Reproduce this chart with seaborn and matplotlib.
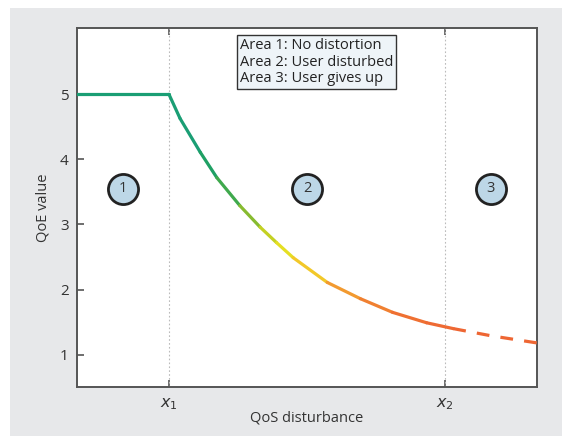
import numpy as np
import matplotlib
matplotlib.use('Agg')
import matplotlib.pyplot as plt
import seaborn as sns
from matplotlib.collections import LineCollection
from matplotlib.colors import LinearSegmentedColormap
from matplotlib.patches import Rectangle

# Werte (x1 = 1, x2 = 4)
qos = [0.0, 1.0, 1.12, 1.34, 1.52, 1.77, 1.99, 2.17, 2.35, 2.72, 3.08, 3.43, 3.80, 4.09]
qoe = [5.0, 5.0, 4.63, 4.11, 3.72, 3.29, 2.96, 2.72, 2.49, 2.11, 1.86, 1.65, 1.49, 1.40]
qos_dash = [4.09, 4.5, 5.0]
qoe_dash = [1.40, 1.29, 1.18]
x_ticks = [1, 4]
x_ticklabels = [r'$x_1$', r'$x_2$']
y_ticks = [1, 2, 3, 4, 5]
area_x = [0.5, 2.5, 4.5]
area_y = [3.55, 3.55, 3.55]
area_labels = ['1', '2', '3']
legend_text = 'Area 1: No distortion\nArea 2: User disturbed\nArea 3: User gives up'

sns.set_theme(style='white')
plt.rcParams['font.family'] = ['Open Sans', 'DejaVu Sans']

fig = plt.figure(figsize=(5.62, 4.37), dpi=100)
fig.patch.set_facecolor('white')
fig.patches.append(Rectangle((10 / 562, 1 / 437), 552 / 562, 428 / 437,
                             transform=fig.transFigure, facecolor='#e7e8ea',
                             edgecolor='none', zorder=-10))
ax = fig.add_axes([0.137, 0.114, 0.8185, 0.822])
ax.set_facecolor('white')

# Verlauf grün -> gelb -> orange
cmap = LinearSegmentedColormap.from_list('qoe', [
    (0.0, '#1a9e74'), (0.25, '#1a9e74'), (0.31, '#22a25a'), (0.37, '#7db832'),
    (0.42, '#cbd322'), (0.46, '#ece223'), (0.51, '#f2c62a'), (0.58, '#f29a30'),
    (0.66, '#f07d31'), (0.75, '#ee6b33'), (1.0, '#ee6633')])
pts = np.column_stack([qos, qoe])
segs = np.stack([pts[:-1], pts[1:]], axis=1)
mids = (np.array(qos[:-1]) + np.array(qos[1:])) / 2 / 5
lc = LineCollection(segs, colors=cmap(mids), linewidths=2.3, capstyle='round',
                    joinstyle='round', zorder=3)
ax.add_collection(lc)

sns.lineplot(x=qos_dash, y=qoe_dash, ax=ax, color='#ee6633', linewidth=2.3,
             dashes=False, zorder=3)
ax.lines[-1].set_dashes([4, 3.5])

for xv in x_ticks:
    ax.axvline(xv, color='#bbbbbb', linestyle=(0, (1.5, 2)), linewidth=0.8, zorder=1)

ax.scatter(area_x, area_y, s=470, facecolor='#bdd7e7', edgecolor='#222222',
           linewidth=2, zorder=4)
for xv, yv, lab in zip(area_x, area_y, area_labels):
    ax.text(xv, yv, lab, ha='center', va='center', fontsize=10.5, color='#333333', zorder=5)

ax.text(1.77, 5.86, legend_text, ha='left', va='top', fontsize=10.5, color='#222222',
        linespacing=1.12,
        bbox=dict(boxstyle='square,pad=0.2', facecolor='#eef4f8', edgecolor='#333333',
                  linewidth=1))

ax.set_xlim(0, 5)
ax.set_ylim(0.5, 6.02)
ax.set_xticks(x_ticks)
ax.set_xticklabels(x_ticklabels, fontsize=11.5, color='#333333')
ax.set_yticks(y_ticks)
ax.set_yticklabels([str(v) for v in y_ticks], fontsize=11, color='#333333')
ax.tick_params(axis='both', direction='in', length=5, width=1.2, color='#555555',
               left=True, bottom=True, top=True, right=False, pad=6)
for sp in ax.spines.values():
    sp.set_color('#555555')
    sp.set_linewidth(1.4)

ax.set_xlabel('QoS disturbance', fontsize=10.5, color='#333333', labelpad=-1)
ax.set_ylabel('QoE value', fontsize=10.5, color='#333333', labelpad=7)

fig.savefig('out.png', dpi=100)
